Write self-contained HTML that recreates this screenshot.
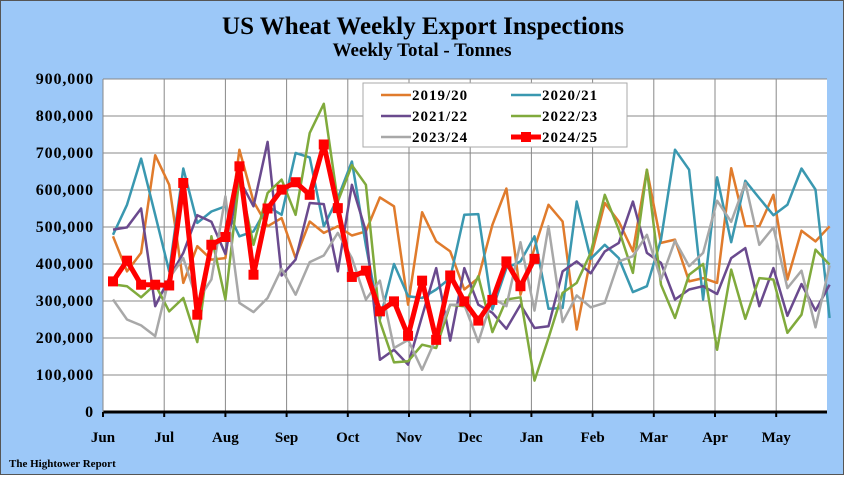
<!DOCTYPE html>
<html><head><meta charset="utf-8"><style>
body{margin:0;background:#fff}
#c{position:relative;width:844px;height:475px;background:#9cc8f8;box-sizing:border-box;border:1px solid #555;font-family:"Liberation Serif",serif}
</style></head><body>
<div id="c">
<svg id="s" width="844" height="475"></svg>
</div>
<script>
const months=["Jun","Jul","Aug","Sep","Oct","Nov","Dec","Jan","Feb","Mar","Apr","May"];
const yTicks=[0,100000,200000,300000,400000,500000,600000,700000,800000,900000];
const s1920=[475,380,430,694,614,349,448,412,416,709,569,502,524,416,515,484,502,477,488,580,556,290,540,461,434,331,362,506,604,317,443,560,515,223,416,565,515,434,655,457,466,353,362,349,659,502,502,587,358,490,461,502];
const s2021=[479,560,685,533,380,658,511,542,556,475,488,556,533,700,688,502,578,677,450,250,400,313,308,331,362,533,535,277,389,407,475,279,281,569,414,452,416,324,340,466,709,655,304,634,459,625,578,532,560,658,601,254];
const s2122=[493,499,550,286,362,430,532,514,427,628,556,730,369,412,565,562,380,614,488,141,168,128,259,389,193,389,290,268,225,290,227,232,380,407,375,434,457,569,430,403,304,331,340,319,416,443,286,389,260,346,274,344];
const s2223=[345,340,310,345,272,308,189,475,304,632,452,592,628,533,754,833,569,667,614,245,134,137,182,173,290,286,367,216,304,310,85,200,322,349,430,587,493,376,655,344,254,371,400,168,385,252,362,358,214,263,439,398];
const s2324=[304,250,234,205,362,416,299,358,583,295,270,308,387,317,405,423,484,416,304,355,173,195,114,200,290,290,189,308,286,459,274,502,243,315,283,295,407,421,479,358,463,394,430,571,514,619,452,499,335,382,229,396];
const s2425=[353,409,344,344,342,619,263,452,473,664,371,550,601,621,587,723,551,365,382,272,299,206,355,195,369,299,247,303,407,340,414];
const series=[["2019/20",s1920,"#e07b2c"],["2020/21",s2021,"#3a98b0"],["2021/22",s2122,"#6a4a8e"],["2022/23",s2223,"#80aa3c"],["2023/24",s2324,"#a8a8a8"],["2024/25",s2425,"#ff0000"]];
const NS="http://www.w3.org/2000/svg",svg=document.getElementById('s');
const X0=102,X1=826,Y0=411,Y1=78;
const xw=i=>112+i*14.05;
const yv=v=>Y0-(v/900000)*(Y0-Y1);
function el(t,a,p){const e=document.createElementNS(NS,t);for(const k in a)e.setAttribute(k,a[k]);(p||svg).appendChild(e);return e;}
let e;
e=el('rect',{x:X0,y:Y1,width:X1-X0,height:Y0-Y1,fill:'#fff'});


yTicks.forEach(v=>{
 e=el('line',{x1:X0,x2:X1,y1:yv(v),y2:yv(v),stroke:'#888','stroke-width':1});
 
 
 e=el('text',{x:93,y:yv(v)+5,'text-anchor':'end','font-size':16,'font-weight':'bold','letter-spacing':'0.9',fill:'#000'});
 e.textContent=v.toLocaleString('en-US');
 
 
});
months.forEach((m,i)=>{
 const x=X0+i*61.2;
 if(i>0){e=el('line',{x1:x,x2:x,y1:Y1,y2:Y0,stroke:'#888','stroke-width':1});
 
 }
 e=el('line',{x1:x,x2:x,y1:Y0,y2:Y0+5,stroke:'#000','stroke-width':2});
 
 
 e=el('text',{x:x,y:441,'text-anchor':'middle','font-size':15,'font-weight':'bold',fill:'#000'});
 e.textContent=m;
 
 
});
e=el('line',{x1:X0,x2:X1,y1:Y0,y2:Y0,stroke:'#000','stroke-width':3});


e=el('line',{x1:X0,x2:X0,y1:Y1,y2:Y0,stroke:'#888','stroke-width':1});


series.forEach(([n,d,c],si)=>{
 const red=si===5;
 const pts=d.map((v,i)=>xw(i).toFixed(1)+','+yv(v*1000).toFixed(1)).join(' ');
 e=el('polyline',{points:pts,fill:'none',stroke:c,'stroke-width':red?5:2.5,'stroke-linejoin':'round'});
 
 
 if(red)d.forEach((v,i)=>{
  e=el('rect',{x:xw(i)-5,y:yv(v*1000)-5,width:10,height:10,fill:c});
  
  
 });
});
e=el('rect',{x:362,y:82,width:264,height:64,fill:'#fff',stroke:'#aaa'});


series.forEach(([n,d,c],i)=>{
 const lx=380+(i%2)*130,ly=94+Math.floor(i/2)*21;
 e=el('line',{x1:lx,x2:lx+30,y1:ly,y2:ly,stroke:c,'stroke-width':i===5?5:2.5});
 
 
 if(i===5){e=el('rect',{x:lx+10,y:ly-5,width:10,height:10,fill:c});
 
 }
 e=el('text',{x:lx+31,y:ly+5,'font-size':15,'font-weight':'bold','letter-spacing':'1',fill:'#000'});
 e.textContent=n;
 
 
});
e=el('text',{x:422,y:33,'text-anchor':'middle','font-size':25,'font-weight':'bold',fill:'#000'});
e.textContent='US Wheat Weekly Export Inspections';


e=el('text',{x:421,y:55,'text-anchor':'middle','font-size':19,'font-weight':'bold',fill:'#000'});
e.textContent='Weekly Total - Tonnes';


e=el('text',{x:8,y:466,'font-size':11,'font-weight':'bold',fill:'#000'});
e.textContent='The Hightower Report';


</script>
</body></html>
